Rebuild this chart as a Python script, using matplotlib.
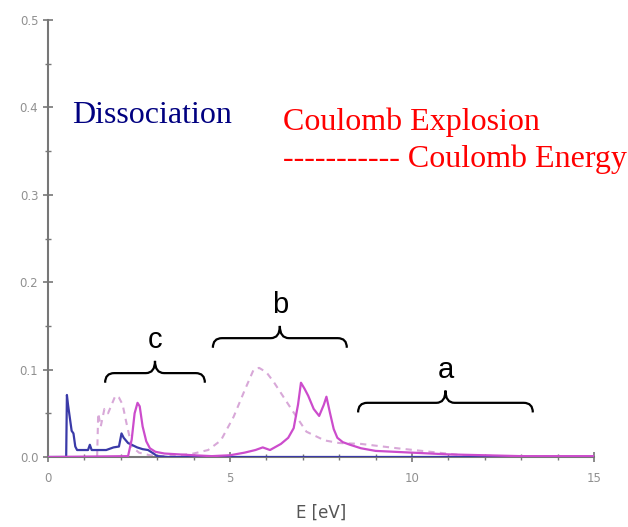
import matplotlib
matplotlib.use("Agg")
import matplotlib.pyplot as plt
from matplotlib.path import Path
from matplotlib.patches import PathPatch

# ---- data ----
diss_x = [0, 0.5, 0.52, 0.55, 0.6, 0.65, 0.7, 0.75, 0.8, 1.0, 1.1, 1.15, 1.2, 1.3, 1.6, 1.8,
          1.95, 2.02, 2.08, 2.2, 2.3, 2.45, 2.6, 2.75, 2.9, 3.0, 3.3, 15]
diss_y = [0, 0, 0.071, 0.06, 0.045, 0.03, 0.027, 0.012, 0.008, 0.008, 0.008, 0.014, 0.008, 0.008,
          0.008, 0.011, 0.012, 0.027, 0.022, 0.016, 0.014, 0.011, 0.009, 0.008, 0.004, 0.001, 0, 0]

ce_x = [0, 2.2, 2.3, 2.38, 2.46, 2.52, 2.6, 2.7, 2.8, 2.95, 3.2, 3.6, 4.0, 4.5, 5.0, 5.4, 5.7,
        5.9, 6.1, 6.4, 6.6, 6.75, 6.87, 6.95, 7.05, 7.15, 7.3, 7.45, 7.58, 7.65, 7.75, 7.85, 7.95,
        8.1, 8.3, 8.6, 9.0, 9.5, 10, 11, 12, 13, 15]
ce_y = [0, 0.001, 0.02, 0.05, 0.062, 0.058, 0.035, 0.018, 0.01, 0.006, 0.004, 0.003, 0.002, 0.001,
        0.002, 0.005, 0.008, 0.011, 0.008, 0.015, 0.022, 0.033, 0.06, 0.085, 0.078, 0.07, 0.055,
        0.047, 0.06, 0.069, 0.05, 0.032, 0.022, 0.017, 0.014, 0.01, 0.007, 0.006, 0.005, 0.003,
        0.002, 0.001, 0.001]

cen_x = [1.35, 1.38, 1.45, 1.55, 1.65, 1.75, 1.85, 1.95, 2.05, 2.15, 2.3, 2.5, 2.8, 3.2, 3.6, 4.0,
         4.4, 4.75, 5.1, 5.4, 5.65, 5.8, 6.0, 6.2, 6.45, 6.7, 7.1, 7.6, 8.0, 8.6, 9.6, 10.5, 11.4,
         12.5, 15]
cen_y = [0, 0.05, 0.035, 0.055, 0.05, 0.06, 0.07, 0.068, 0.06, 0.04, 0.012, 0.005, 0.002, 0.001,
         0.002, 0.004, 0.008, 0.019, 0.046, 0.076, 0.1, 0.102, 0.097, 0.086, 0.07, 0.054, 0.029,
         0.019, 0.016, 0.015, 0.01, 0.006, 0.002, 0.001, 0.0]

x_ticks = [0, 5, 10, 15]
y_ticks = [0.0, 0.1, 0.2, 0.3, 0.4, 0.5]

# brace annotations: label, x-start, x-end, y of the brace line
brace_labels = ["c", "b", "a"]
brace_x0 = [1.57, 4.53, 8.52]
brace_x1 = [4.31, 8.21, 13.32]
brace_y = [0.096, 0.136, 0.062]

fig = plt.figure(figsize=(6.28, 5.27), dpi=100)
ax = fig.add_axes([0.0764, 0.1328, 0.8694, 0.8292])

ax.plot([0, 15], [0, 0], color="#e070e0", lw=2.0, zorder=1)
ax.plot(cen_x, cen_y, color="#d8a8d8", lw=1.5, ls=(0, (3, 2.5)), zorder=2)
ax.plot(diss_x, diss_y, color="#3a3aa8", lw=1.6, zorder=3)
ax.plot(ce_x, ce_y, color="#cc4ccc", lw=1.6, zorder=4)

ax.set_xlim(0, 15)
ax.set_ylim(0, 0.5)
ax.set_xticks(x_ticks)
ax.set_xticklabels([str(t) for t in x_ticks])
ax.set_yticks(y_ticks)
ax.set_yticklabels([f"{t:.1f}" for t in y_ticks])
ax.set_xticks(range(0, 16), minor=True)
ax.set_yticks([0.05 * i for i in range(11)], minor=True)
for s in ["top", "right"]:
    ax.spines[s].set_visible(False)
for s in ["left", "bottom"]:
    ax.spines[s].set_color("#777777")
    ax.spines[s].set_linewidth(1.5)
ax.tick_params(which="major", direction="inout", length=7, width=1.2, color="#777777",
               labelsize=8.5, labelcolor="#909090")
ax.tick_params(axis="x", which="major", pad=7)
ax.tick_params(which="minor", direction="inout", length=4, width=1.0, color="#777777")
ax.set_xlabel("E [eV]", fontsize=12, color="#555555", labelpad=14)

serif = ["Liberation Serif", "DejaVu Serif"]
ax.text(0.66, 0.391, "Dissociation", color="#000080", fontsize=23, family=serif, va="center")
ax.text(6.46, 0.383, "Coulomb Explosion", color="#ff0000", fontsize=23, family=serif, va="center")
ax.text(6.46, 0.341, "----------- Coulomb Energy", color="#ff0000", fontsize=23, family=serif,
        va="center")


def brace(ax, x0, x1, y, label):
    xm = (x0 + x1) / 2
    dx = 0.25
    h = 0.011
    tip = 0.014
    verts = [(x0, y - h), (x0, y), (x0 + dx, y), (xm - dx, y), (xm, y), (xm, y + tip),
             (xm, y), (xm + dx, y), (x1 - dx, y), (x1, y), (x1, y - h)]
    codes = [Path.MOVETO, Path.CURVE3, Path.CURVE3, Path.LINETO, Path.CURVE3, Path.CURVE3,
             Path.CURVE3, Path.CURVE3, Path.LINETO, Path.CURVE3, Path.CURVE3]
    ax.add_patch(PathPatch(Path(verts, codes), fill=False, lw=1.6, color="black",
                           clip_on=False, zorder=5))
    ax.text(xm, y + tip + 0.008, label, fontsize=21, family=["Liberation Sans", "DejaVu Sans"],
            ha="center", va="bottom")


for lab, a0, a1, yy in zip(brace_labels, brace_x0, brace_x1, brace_y):
    brace(ax, a0, a1, yy, lab)

fig.savefig("out.png", dpi=100)
